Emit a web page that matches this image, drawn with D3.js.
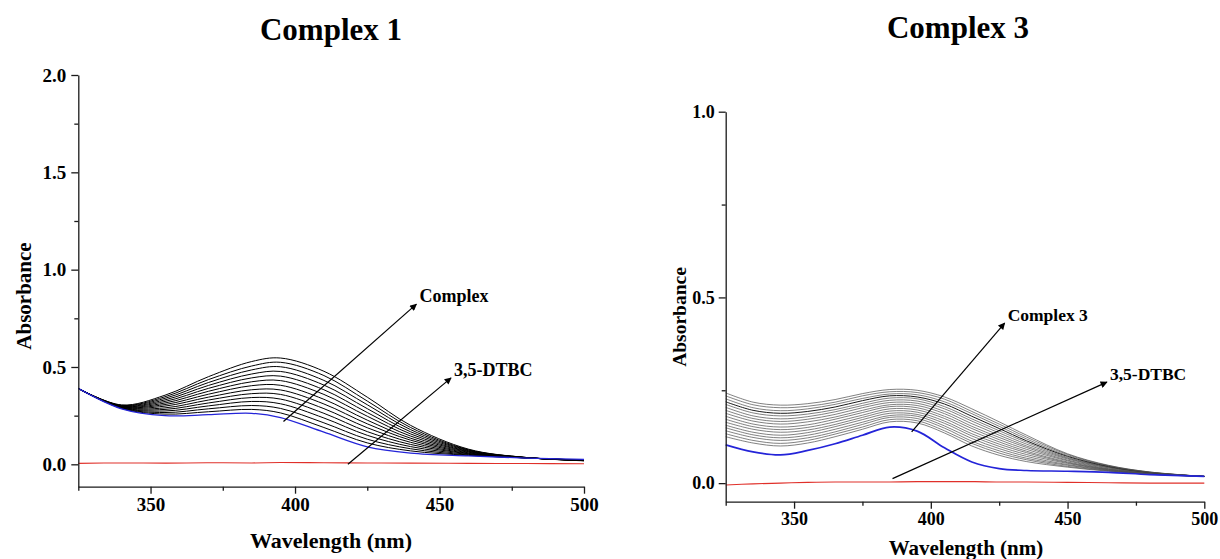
<!DOCTYPE html>
<html>
<head>
<meta charset="utf-8">
<script src="https://cdn.jsdelivr.net/npm/d3@7/dist/d3.min.js"></script>
<style>
  html, body { margin: 0; padding: 0; background: #fff; }
  svg { display: block; }
  text { font-family: "Liberation Serif", "Times New Roman", serif; font-weight: bold; fill: #000; }
</style>
</head>
<body>
<svg id="chart" width="1220" height="559"></svg>
<script>
// ---------------- DATA ----------------
// Complex 1 panel
const wl1 = [325, 340, 355, 370, 385, 395, 410, 425, 440, 460, 480, 500];
const c1Blue = [0.39, 0.285, 0.250, 0.255, 0.262, 0.240, 0.165, 0.090, 0.058, 0.043, 0.032, 0.025];
const c1Red  = [0.005, 0.007, 0.006, 0.008, 0.007, 0.009, 0.008, 0.007, 0.006, 0.005, 0.004, 0.003];
const c1Black = [
  [0.39, 0.287, 0.258, 0.270, 0.282, 0.264, 0.189, 0.110, 0.069, 0.046, 0.033, 0.021],
  [0.39, 0.288, 0.266, 0.285, 0.302, 0.287, 0.213, 0.129, 0.080, 0.048, 0.033, 0.021],
  [0.39, 0.290, 0.274, 0.300, 0.323, 0.311, 0.238, 0.149, 0.091, 0.051, 0.033, 0.021],
  [0.39, 0.291, 0.282, 0.315, 0.343, 0.335, 0.262, 0.168, 0.102, 0.054, 0.033, 0.021],
  [0.39, 0.293, 0.290, 0.330, 0.363, 0.359, 0.286, 0.188, 0.113, 0.056, 0.033, 0.021],
  [0.39, 0.294, 0.299, 0.345, 0.383, 0.382, 0.310, 0.208, 0.124, 0.059, 0.034, 0.020],
  [0.39, 0.296, 0.307, 0.360, 0.404, 0.406, 0.334, 0.227, 0.134, 0.062, 0.034, 0.020],
  [0.39, 0.297, 0.315, 0.375, 0.424, 0.430, 0.359, 0.247, 0.145, 0.065, 0.034, 0.020],
  [0.39, 0.299, 0.323, 0.390, 0.444, 0.453, 0.383, 0.266, 0.156, 0.067, 0.034, 0.020],
  [0.39, 0.300, 0.331, 0.405, 0.464, 0.477, 0.407, 0.286, 0.167, 0.070, 0.034, 0.019],
  [0.39, 0.302, 0.339, 0.420, 0.485, 0.501, 0.431, 0.306, 0.178, 0.073, 0.035, 0.019],
  [0.39, 0.303, 0.347, 0.435, 0.505, 0.524, 0.456, 0.325, 0.189, 0.075, 0.035, 0.019],
  [0.39, 0.305, 0.355, 0.450, 0.528, 0.546, 0.478, 0.345, 0.200, 0.078, 0.035, 0.018]
];

// Complex 3 panel
const wl3 = [325, 335, 345, 355, 365, 375, 385, 395, 405, 415, 425, 435, 450, 465, 480, 500];
const c3Blue = [0.103, 0.084, 0.076, 0.088, 0.106, 0.129, 0.151, 0.140, 0.095, 0.057, 0.039, 0.034, 0.032, 0.029, 0.023, 0.018];
const c3Red  = [-0.005, -0.002, 0.000, 0.002, 0.003, 0.003, 0.003, 0.004, 0.004, 0.004, 0.003, 0.003, 0.002, 0.001, 0.000, 0.000];
const c3Grey = [
  [0.125, 0.108, 0.100, 0.108, 0.125, 0.145, 0.165, 0.162, 0.135, 0.100, 0.075, 0.058, 0.043, 0.032, 0.024, 0.018],
  [0.133, 0.115, 0.107, 0.115, 0.132, 0.151, 0.171, 0.168, 0.141, 0.107, 0.081, 0.063, 0.045, 0.033, 0.024, 0.018],
  [0.141, 0.123, 0.115, 0.122, 0.138, 0.158, 0.177, 0.174, 0.148, 0.113, 0.087, 0.067, 0.048, 0.034, 0.025, 0.018],
  [0.149, 0.130, 0.122, 0.129, 0.145, 0.164, 0.182, 0.180, 0.154, 0.120, 0.093, 0.072, 0.050, 0.035, 0.025, 0.018],
  [0.156, 0.137, 0.129, 0.136, 0.152, 0.171, 0.188, 0.185, 0.161, 0.127, 0.099, 0.077, 0.053, 0.036, 0.026, 0.018],
  [0.164, 0.145, 0.137, 0.143, 0.158, 0.177, 0.194, 0.191, 0.167, 0.133, 0.105, 0.082, 0.055, 0.037, 0.026, 0.018],
  [0.172, 0.152, 0.144, 0.150, 0.165, 0.183, 0.200, 0.197, 0.174, 0.140, 0.111, 0.086, 0.057, 0.038, 0.026, 0.018],
  [0.180, 0.159, 0.151, 0.157, 0.172, 0.190, 0.206, 0.203, 0.180, 0.147, 0.117, 0.091, 0.060, 0.039, 0.027, 0.018],
  [0.188, 0.167, 0.159, 0.165, 0.178, 0.196, 0.211, 0.209, 0.187, 0.153, 0.123, 0.096, 0.062, 0.041, 0.027, 0.018],
  [0.196, 0.174, 0.166, 0.172, 0.185, 0.203, 0.217, 0.215, 0.193, 0.160, 0.129, 0.100, 0.065, 0.042, 0.028, 0.018],
  [0.204, 0.181, 0.173, 0.179, 0.192, 0.209, 0.223, 0.221, 0.200, 0.167, 0.135, 0.105, 0.067, 0.043, 0.028, 0.018],
  [0.212, 0.189, 0.181, 0.186, 0.198, 0.215, 0.229, 0.227, 0.206, 0.173, 0.141, 0.110, 0.069, 0.044, 0.028, 0.018],
  [0.219, 0.196, 0.188, 0.193, 0.205, 0.222, 0.235, 0.232, 0.213, 0.180, 0.147, 0.114, 0.072, 0.045, 0.029, 0.018],
  [0.227, 0.203, 0.195, 0.200, 0.212, 0.228, 0.240, 0.238, 0.219, 0.187, 0.153, 0.119, 0.074, 0.046, 0.029, 0.018],
  [0.235, 0.211, 0.203, 0.207, 0.218, 0.235, 0.246, 0.244, 0.226, 0.193, 0.159, 0.124, 0.077, 0.047, 0.030, 0.018],
  [0.243, 0.218, 0.210, 0.214, 0.225, 0.241, 0.252, 0.250, 0.232, 0.200, 0.165, 0.129, 0.079, 0.048, 0.030, 0.018]
];
const c3DarkIndex = 12;

// Axis ticks
const xMajor = [350, 400, 450, 500];
const xMinor = [325, 375, 425, 475];
const y1Major = [0.0, 0.5, 1.0, 1.5, 2.0];
const y1Minor = [0.25, 0.75, 1.25, 1.75];
const y3Major = [0.0, 0.5, 1.0];
const y3Minor = [0.25, 0.75];

// Annotations (data coordinates: [x0, y0] -> [x1, y1], label)
const ann1 = [
  { from: [396, 0.22], to: [442, 0.823], label: "Complex" },
  { from: [418.3, 0.0], to: [454, 0.444], label: "3,5-DTBC" }
];
const ann3 = [
  { from: [393, 0.138], to: [427, 0.431], label: "Complex 3" },
  { from: [386, 0.012], to: [464.4, 0.272], label: "3,5-DTBC" }
];

// ---------------- DRAW ----------------
const svg = d3.select("#chart");
const defs = svg.append("defs");
defs.append("marker")
  .attr("id", "arrow").attr("viewBox", "0 0 10 10")
  .attr("refX", 9).attr("refY", 5)
  .attr("markerWidth", 9).attr("markerHeight", 7)
  .attr("markerUnits", "userSpaceOnUse")
  .attr("orient", "auto")
  .append("path").attr("d", "M0,0 L10,5 L0,10 Z").attr("fill", "#000");

function panel(opt) {
  const x = d3.scaleLinear().domain([325, 500]).range(opt.xr);
  const y = d3.scaleLinear().domain(opt.yd).range(opt.yr);
  const g = svg.append("g");

  const line = d3.line()
    .x((d, i) => x(opt.wl[i]))
    .y(d => y(d))
    .curve(d3.curveCatmullRom.alpha(0.5));

  // red (3,5-DTBC)
  g.append("path").attr("d", line(opt.red)).attr("fill", "none")
    .attr("stroke", "#e0302a").attr("stroke-width", 1.1);
  // family of curves
  opt.family.forEach((arr, i) => {
    g.append("path").attr("d", line(arr)).attr("fill", "none")
      .attr("stroke", opt.famColor(i)).attr("stroke-width", opt.famWidth(i));
  });
  // blue (initial)
  g.append("path").attr("d", line(opt.blue)).attr("fill", "none")
    .attr("stroke", "#2424d8").attr("stroke-width", opt.blueWidth);

  // axes
  const xb = opt.yr[0];
  const xl = opt.xr[0];
  g.append("g").attr("transform", `translate(0,${xb})`)
    .call(d3.axisBottom(x).tickValues(xMajor).tickFormat(d3.format("d")).tickSize(7).tickSizeOuter(0).tickPadding(4));
  g.append("g").attr("transform", `translate(0,${xb})`)
    .call(d3.axisBottom(x).tickValues(xMinor).tickFormat("").tickSize(4).tickSizeOuter(0))
    .select(".domain").remove();
  g.append("g").attr("transform", `translate(${xl},0)`)
    .call(d3.axisLeft(y).tickValues(opt.yMajor).tickFormat(d3.format(".1f")).tickSize(7).tickSizeOuter(0).tickPadding(opt.yPad));
  g.append("g").attr("transform", `translate(${xl},0)`)
    .call(d3.axisLeft(y).tickValues(opt.yMinor).tickFormat("").tickSize(4).tickSizeOuter(0))
    .select(".domain").remove();
  g.selectAll(".domain, .tick line").attr("stroke", "#1a1a1a").attr("stroke-width", 1.3);
  g.selectAll(".tick text")
    .attr("font-family", '"Liberation Serif", serif')
    .attr("font-weight", "bold")
    .attr("font-size", opt.tickFont)
    .style("font-size", opt.tickFont + "px")
    .attr("fill", "#000");

  // titles
  svg.append("text").attr("x", opt.titleX).attr("y", opt.titleY)
    .attr("text-anchor", "middle").style("font-size", "31px").text(opt.title);
  svg.append("text").attr("x", opt.xtX).attr("y", opt.xtY)
    .attr("text-anchor", "middle").style("font-size", opt.xtFont + "px").text("Wavelength (nm)");
  svg.append("text").attr("transform", `translate(${opt.ytX},${opt.ytY}) rotate(-90)`)
    .attr("text-anchor", "middle").style("font-size", opt.ytFont + "px").text("Absorbance");

  // annotations
  opt.ann.forEach(a => {
    g.append("line")
      .attr("x1", x(a.from[0])).attr("y1", y(a.from[1]))
      .attr("x2", x(a.to[0])).attr("y2", y(a.to[1]))
      .attr("stroke", "#000").attr("stroke-width", 1.2)
      .attr("marker-end", "url(#arrow)");
    g.append("text").attr("x", x(a.to[0]) + 3).attr("y", y(a.to[1]) - 2)
      .style("font-size", opt.annFont + "px").text(a.label);
  });
}

panel({
  wl: wl1, blue: c1Blue, red: c1Red, family: c1Black,
  famColor: () => "#000", famWidth: () => 1.0, blueWidth: 1.3,
  xr: [78.3, 584], yd: [-0.115, 2.0], yr: [486.7, 75],
  yMajor: y1Major, yMinor: y1Minor, yPad: 5, tickFont: 19,
  title: "Complex 1", titleX: 331, titleY: 40,
  xtX: 331, xtY: 548, xtFont: 22,
  ytX: 31, ytY: 296, ytFont: 21,
  ann: ann1, annFont: 18
});

panel({
  wl: wl3, blue: c3Blue, red: c3Red, family: c3Grey,
  famColor: i => i === c3DarkIndex ? "#1a1a1a" : "#4a4a4a",
  famWidth: i => i === c3DarkIndex ? 1.0 : 0.7, blueWidth: 1.7,
  xr: [725.7, 1204.3], yd: [-0.05, 1.0], yr: [501.7, 111.7],
  yMajor: y3Major, yMinor: y3Minor, yPad: 4, tickFont: 18,
  title: "Complex 3", titleX: 958, titleY: 38,
  xtX: 966, xtY: 555, xtFont: 21,
  ytX: 686, ytY: 317, ytFont: 19.5,
  ann: ann3, annFont: 17.5
});
</script>
</body>
</html>
